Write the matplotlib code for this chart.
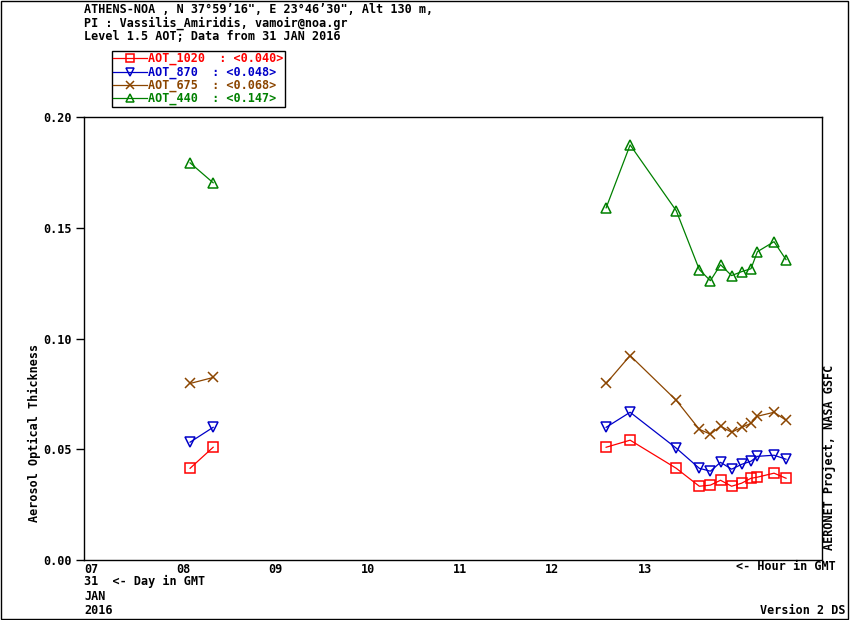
import numpy as np
import matplotlib
matplotlib.use('Agg')
import matplotlib.pyplot as plt
from matplotlib.patches import Rectangle

# ==========================================
# DATOS
# ==========================================
horas = [8.15, 8.40, 12.66, 12.92, 13.42, 13.67, 13.79, 13.90, 14.02,
         14.13, 14.23, 14.30, 14.48, 14.61]

aot_1020 = [0.0414, 0.0509, 0.0509, 0.0541, 0.0414, 0.0333, 0.0338, 0.0360,
            0.0333, 0.0347, 0.0369, 0.0374, 0.0392, 0.0369]
aot_870 = [0.0532, 0.0599, 0.0599, 0.0667, 0.0505, 0.0414, 0.0401, 0.0441,
           0.0410, 0.0432, 0.0446, 0.0468, 0.0473, 0.0455]
aot_675 = [0.0797, 0.0824, 0.0797, 0.0923, 0.0721, 0.0590, 0.0568, 0.0604,
           0.0577, 0.0599, 0.0617, 0.0649, 0.0667, 0.0631]
aot_440 = [0.1793, 0.1703, 0.1590, 0.1874, 0.1577, 0.1311, 0.1261, 0.1333,
           0.1284, 0.1302, 0.1315, 0.1392, 0.1437, 0.1356]

series = [
    ('AOT_1020  : <0.040>', aot_1020, '#ff0000', 's'),
    ('AOT_870  : <0.048>', aot_870, '#0000c8', 'v'),
    ('AOT_675  : <0.068>', aot_675, '#8b4500', 'x'),
    ('AOT_440  : <0.147>', aot_440, '#008000', '^'),
]

etiquetas_horas = ['07', '08', '09', '10', '11', '12', '13']

W, H = 850, 620


def fx(px):
    return px / W


def fy(py):
    return 1 - py / H


# cortar la linea donde hay un hueco de mas de 1 hora
def con_huecos(x, y):
    xs, ys = [x[0]], [y[0]]
    for i in range(1, len(x)):
        if x[i] - x[i - 1] > 1.0:
            xs.append(np.nan)
            ys.append(np.nan)
        xs.append(x[i])
        ys.append(y[i])
    return xs, ys


# ==========================================
# GRAFICA
# ==========================================
fuente = {'family': 'DejaVu Sans Mono', 'weight': 'bold', 'size': 8.5}

fig = plt.figure(figsize=(W / 100, H / 100), dpi=100)
ax = fig.add_axes([fx(84), fy(560), fx(822) - fx(84), fy(117) - fy(560)])

handles = []
for nombre, vals, color, mk in series:
    xs, ys = con_huecos(horas, vals)
    ax.plot(xs, ys, color=color, linewidth=0.9)
    ax.plot(horas, vals, linestyle='none', marker=mk, markersize=7,
            markerfacecolor='none', markeredgecolor=color, markeredgewidth=1.1)
    h, = plt.plot([], [], color=color, linewidth=0.9, marker=mk, markersize=6,
                  markerfacecolor='none', markeredgecolor=color, markeredgewidth=1.1)
    handles.append(h)

ax.set_xlim(7, 15)
ax.set_ylim(0, 0.2)
ax.set_yticks([0, 0.05, 0.10, 0.15, 0.20])
ax.set_yticklabels(['0.00', '0.05', '0.10', '0.15', '0.20'], fontdict=fuente)
ax.tick_params(axis='y', direction='out', length=6, width=1, pad=3)
ax.set_xticks(range(7, 14))
ax.set_xticklabels(etiquetas_horas, fontdict={'family': 'DejaVu Sans Mono', 'weight': 'bold', 'size': 8.5})
for t in ax.get_xticklabels():
    t.set_horizontalalignment('left')
ax.tick_params(axis='x', length=0, pad=2)
for s in ax.spines.values():
    s.set_linewidth(1)

# textos de cabecera
cab = ['ATHENS-NOA , N 37\u00b059\u201916", E 23\u00b046\u201930", Alt 130 m,',
       'PI : Vassilis_Amiridis, vamoir@noa.gr',
       'Level 1.5 AOT; Data from 31 JAN 2016']
for i, linea in enumerate(cab):
    fig.text(fx(84), fy(9.5 + 13.5 * i), linea, ha='left', va='center', **fuente)

fig.text(fx(34), fy(433), 'Aerosol Optical Thickness', rotation=90,
         ha='center', va='center', **fuente)
fig.text(fx(829), fy(457), 'AERONET Project, NASA GSFC', rotation=90,
         ha='center', va='center', **fuente)

fig.text(fx(836), fy(567), '<- Hour in GMT', ha='right', va='center', **fuente)
fig.text(fx(84), fy(581), '31  <- Day in GMT', ha='left', va='center', **fuente)
fig.text(fx(84), fy(596), 'JAN', ha='left', va='center', **fuente)
fig.text(fx(84), fy(610), '2016', ha='left', va='center', **fuente)
fig.text(fx(846), fy(610), 'Version 2 DS', ha='right', va='center', **fuente)

leg = fig.legend(handles, [s[0] for s in series], loc='upper left',
                 bbox_to_anchor=(fx(112), fy(51)), frameon=True, fancybox=False,
                 edgecolor='black', framealpha=1, borderpad=0.1, borderaxespad=0,
                 handlelength=2.9, handletextpad=0.05, labelspacing=0.0,
                 handleheight=0.6,
                 prop={'family': 'DejaVu Sans Mono', 'weight': 'bold', 'size': 8.5},
                 labelcolor=[s[2] for s in series])
leg.get_frame().set_linewidth(1)

# marco exterior
fig.patches.append(Rectangle((0.001, 0.001), 0.997, 0.997, transform=fig.transFigure,
                             fill=False, edgecolor='black', linewidth=1))

plt.savefig('out.png', dpi=100)
